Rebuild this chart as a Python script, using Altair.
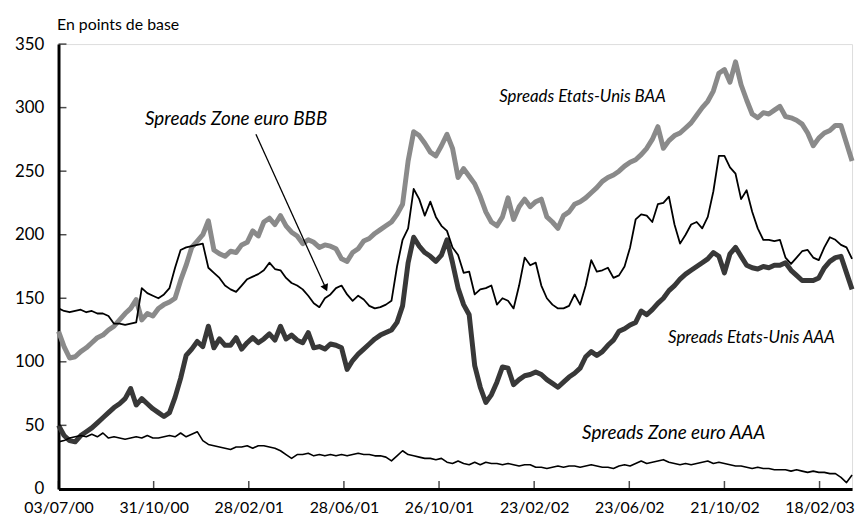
import altair as alt
import pandas as pd

# Weekly observations, 03/07/2000 -> 31/03/2003 (values in basis points)
dates = pd.date_range("2000-07-03", periods=144, freq="7D")

us_baa = [124, 112, 103, 104, 108, 111, 115, 119, 121, 125, 128, 133, 138, 142, 149, 133,
          138, 136, 142, 145, 147, 150, 164, 176, 190, 195, 200, 211, 188, 185, 183, 187,
          186, 192, 194, 203, 199, 210, 213, 208, 215, 207, 202, 199, 193, 196, 194, 190,
          192, 191, 189, 181, 179, 186, 189, 195, 197, 201, 204, 207, 210, 216, 224, 258,
          281, 278, 272, 265, 262, 270, 279, 268, 245, 252, 246, 240, 230, 218, 210, 207,
          214, 229, 212, 222, 228, 222, 226, 228, 214, 210, 205, 215, 218, 224, 226, 229,
          233, 237, 242, 245, 247, 250, 254, 257, 259, 263, 268, 275, 285, 268, 274, 278,
          280, 284, 288, 294, 300, 305, 313, 327, 330, 320, 336, 318, 306, 295, 292, 296,
          295, 298, 301, 293, 292, 290, 287, 280, 270, 276, 280, 282, 286, 286, 272, 258]

euro_bbb = [142, 140, 139, 140, 141, 139, 140, 138, 138, 136, 130, 130, 129, 130, 131, 158,
            154, 152, 150, 153, 158, 174, 188, 190, 191, 192, 193, 174, 170, 166, 160, 157,
            155, 160, 165, 167, 169, 172, 178, 173, 172, 166, 162, 160, 157, 152, 146, 143,
            150, 153, 158, 160, 153, 148, 152, 149, 144, 142, 143, 145, 148, 175, 196, 205,
            236, 228, 215, 226, 214, 207, 203, 190, 184, 170, 171, 153, 157, 158, 160, 145,
            150, 148, 142, 160, 182, 176, 178, 160, 150, 145, 142, 142, 144, 153, 145, 160,
            180, 171, 172, 174, 166, 168, 175, 190, 212, 216, 215, 210, 224, 225, 230, 208,
            193, 200, 208, 210, 205, 214, 234, 262, 262, 253, 248, 228, 235, 218, 205, 196,
            196, 195, 196, 182, 177, 182, 187, 188, 182, 180, 190, 198, 196, 192, 190, 181]

us_aaa = [50, 42, 38, 37, 42, 45, 48, 52, 56, 60, 64, 67, 71, 79, 66, 71,
          67, 63, 60, 57, 60, 72, 87, 105, 110, 116, 112, 128, 111, 118, 113, 113,
          119, 110, 115, 119, 115, 118, 122, 117, 128, 118, 121, 117, 115, 123, 111, 112,
          110, 114, 113, 111, 94, 101, 106, 110, 114, 118, 121, 123, 125, 131, 144, 178,
          198, 191, 186, 183, 179, 184, 196, 178, 158, 145, 137, 97, 80, 68, 74, 84,
          96, 95, 82, 86, 89, 90, 92, 90, 86, 83, 80, 84, 88, 91, 95, 104,
          108, 105, 108, 113, 117, 124, 126, 129, 131, 140, 137, 141, 146, 150, 156, 160,
          165, 169, 172, 175, 178, 181, 186, 183, 170, 185, 190, 183, 176, 174, 173, 175,
          174, 176, 176, 178, 172, 168, 164, 164, 164, 166, 174, 179, 182, 183, 170, 157]

euro_aaa = [37, 38, 40, 41, 42, 41, 43, 41, 44, 40, 41, 40, 39, 40, 41, 40,
            42, 40, 40, 41, 42, 41, 44, 41, 43, 45, 38, 35, 34, 33, 32, 31,
            33, 33, 34, 32, 34, 34, 33, 32, 30, 27, 24, 27, 27, 28, 26, 27,
            26, 27, 26, 27, 26, 27, 28, 27, 27, 26, 26, 25, 22, 26, 30, 27,
            26, 25, 24, 24, 23, 24, 21, 20, 22, 20, 19, 21, 19, 21, 20, 20,
            19, 20, 19, 18, 19, 19, 17, 17, 16, 17, 18, 17, 18, 18, 17, 18,
            19, 18, 17, 17, 16, 18, 19, 18, 20, 22, 20, 21, 22, 23, 21, 20,
            19, 20, 19, 20, 21, 22, 20, 21, 20, 19, 18, 18, 17, 16, 17, 16,
            16, 15, 15, 15, 14, 15, 14, 13, 14, 13, 13, 12, 12, 9, 5, 11]

x_ticks = ["2000-07-03", "2000-10-31", "2001-02-28", "2001-06-28", "2001-10-26",
           "2002-02-23", "2002-06-23", "2002-10-21", "2003-02-18"]
y_ticks = [0, 50, 100, 150, 200, 250, 300, 350]

series_names = ["Spreads Etats-Unis BAA", "Spreads Etats-Unis AAA",
                "Spreads Zone euro BBB", "Spreads Zone euro AAA"]
series_values = [us_baa, us_aaa, euro_bbb, euro_aaa]
series_colors = ["#8a8a8a", "#383838", "#000000", "#000000"]
series_widths = [5, 5, 1.8, 1.6]

labels_text = ["Spreads Etats-Unis BAA", "Spreads Zone euro BBB",
               "Spreads Etats-Unis AAA", "Spreads Zone euro AAA"]
labels_date = ["2002-04-25", "2001-02-12", "2002-11-24", "2002-08-18"]
labels_value = [308, 291, 119, 44]
labels_size = [17, 19, 17, 19]

arrow_from = ("2001-03-09", 279)
arrow_to = ("2001-06-05", 158)

FONT = "Lato"
x_domain = [alt.DateTime(year=2000, month=7, date=3), alt.DateTime(year=2003, month=3, date=31)]
xscale = alt.Scale(domain=x_domain)
yscale = alt.Scale(domain=[0, 350], nice=False)

x_tick_dt = [alt.DateTime(year=int(d[:4]), month=int(d[5:7]), date=int(d[8:])) for d in x_ticks]

layers = []
for i, (name, vals) in enumerate(zip(series_names, series_values)):
    df = pd.DataFrame({"date": dates, "value": vals})
    enc_x = alt.X("date:T", scale=xscale,
                  axis=alt.Axis(values=x_tick_dt, format="%d/%m/%y", title=None,
                                tickSize=0, labelPadding=11, grid=False,
                                labelFontSize=16, labelFont=FONT, labelColor="#000",
                                domainColor="#000", domainWidth=3, labelFlush=False))
    enc_y = alt.Y("value:Q", scale=yscale,
                  axis=alt.Axis(values=y_ticks, title="En points de base", titleAngle=0,
                                titleAlign="left", titleX=-2, titleY=-15,
                                titleBaseline="alphabetic", titleFont=FONT,
                                titleFontSize=16, titleFontWeight="normal", titleColor="#000",
                                tickSize=0, labelPadding=15, grid=False,
                                labelFontSize=17, labelFont=FONT, labelColor="#000",
                                domainColor="#000", domainWidth=3))
    layers.append(
        alt.Chart(df).mark_line(color=series_colors[i], strokeWidth=series_widths[i],
                                strokeJoin="round")
        .encode(x=enc_x, y=enc_y)
    )

# inside ticks
xt = pd.DataFrame({"date": pd.to_datetime(x_ticks)})
layers.append(alt.Chart(xt).mark_tick(color="#000", thickness=1.5, size=8)
              .encode(x=alt.X("date:T", scale=xscale), y=alt.value(445)))
yt = pd.DataFrame({"value": y_ticks})
layers.append(alt.Chart(yt).mark_tick(color="#000", thickness=1.5, size=8)
              .encode(y=alt.Y("value:Q", scale=yscale), x=alt.value(4)))

# annotations
lab = pd.DataFrame({"text": labels_text, "date": pd.to_datetime(labels_date),
                    "value": labels_value, "size": labels_size})
layers.append(alt.Chart(lab).mark_text(font=FONT, fontStyle="italic",
                                       color="#000", align="center", baseline="middle")
              .encode(x=alt.X("date:T", scale=xscale), y=alt.Y("value:Q", scale=yscale),
                      text="text:N",
                      size=alt.Size("size:Q", scale=None, legend=None)))

arr = pd.DataFrame({"date": pd.to_datetime([arrow_from[0]]), "value": [arrow_from[1]],
                    "date2": pd.to_datetime([arrow_to[0]]), "value2": [arrow_to[1]]})
layers.append(alt.Chart(arr).mark_rule(color="#000", strokeWidth=1.3)
              .encode(x=alt.X("date:T", scale=xscale), y=alt.Y("value:Q", scale=yscale),
                      x2="date2:T", y2="value2:Q"))
head = pd.DataFrame({"date": pd.to_datetime([arrow_to[0]]), "value": [arrow_to[1]]})
layers.append(alt.Chart(head).mark_point(shape="triangle-up", filled=True, color="#000",
                                         angle=156, size=70, opacity=1)
              .encode(x=alt.X("date:T", scale=xscale), y=alt.Y("value:Q", scale=yscale)))

chart = alt.layer(*layers).properties(
    width=801, height=449,
    autosize=alt.AutoSizeParams(type="none"),
    padding={"left": 51, "top": 34, "right": 7, "bottom": 31},
).configure_view(stroke="#000", strokeWidth=2).configure(background="white")

chart.save("out.html", embed_options={"renderer": "svg", "actions": False})
